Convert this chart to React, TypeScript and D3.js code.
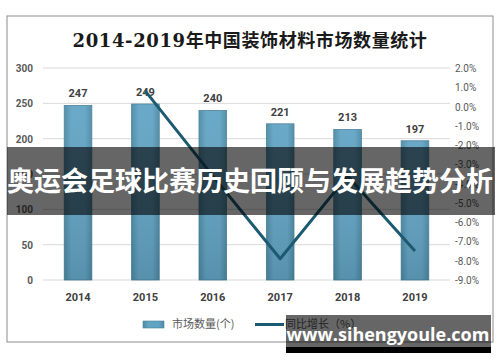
import React from 'react';
import * as d3 from 'd3';

// data
const years = ['2014', '2015', '2016', '2017', '2018', '2019'];
const marketCount = [247, 249, 240, 221, 213, 197];
const growthYears = ['2015', '2016', '2017', '2018', '2019'];
const growthRate = [0.8, -3.6, -7.9, -3.6, -7.5];
const leftTicks = [0, 50, 100, 150, 200, 250, 300];
const rightTicks = [2, 1, 0, -1, -2, -3, -4, -5, -6, -7, -8, -9];

const W = 500;
const H = 362;
const cjk = '"Noto Sans CJK SC", "Noto Sans", sans-serif';

export default function App() {
  const x = d3.scaleBand().domain(years).range([44, 449]).paddingInner(0.59).paddingOuter(0.3);
  const y = d3.scaleLinear().domain([0, 300]).range([280, 68]);
  const yr = d3.scaleLinear().domain([-9, 2]).range([280, 68]);

  const line = d3
    .line<number>()
    .x((d, i) => (x(growthYears[i]) as number) + x.bandwidth() / 2)
    .y((d) => yr(d));

  return (
    <svg
      width={W}
      height={H}
      style={{ position: 'absolute', left: 0, top: 0, background: '#fff' }}
    >
      <defs>
        <linearGradient id="barGrad" x1="0" y1="0" x2="1" y2="0">
          <stop offset="0" stopColor="#4d8aa5" />
          <stop offset="0.25" stopColor="#62a4c4" />
          <stop offset="0.75" stopColor="#62a4c4" />
          <stop offset="1" stopColor="#4d8aa5" />
        </linearGradient>
        <linearGradient id="barShade" x1="0" y1="0" x2="0" y2="1">
          <stop offset="0" stopColor="#ffffff" stopOpacity="0.05" />
          <stop offset="1" stopColor="#000000" stopOpacity="0.12" />
        </linearGradient>
      </defs>

      <rect x={7} y={16} width={486} height={326} fill="#fff" stroke="#8c8c8c" strokeWidth={1} />

      <text
        x={250}
        y={47}
        textAnchor="middle"
        fontFamily={'"DejaVu Serif", "Noto Sans CJK SC", serif'}
        fontSize={18}
        fontWeight="bold"
        letterSpacing={0.6}
        fill="#1a1a1a"
      >
        2014-2019年中国装饰材料市场数量统计
      </text>

      {leftTicks.map((t) => (
        <g key={'l' + t}>
          <line x1={43} x2={450} y1={y(t)} y2={y(t)} stroke="#d9d9d9" strokeWidth={1} />
          <text
            x={33}
            y={y(t) + 4}
            textAnchor="end"
            fontFamily="Roboto, sans-serif"
            fontWeight="bold"
            fontSize={10}
            fill="#595959"
          >
            {t}
          </text>
        </g>
      ))}

      {rightTicks.map((t) => (
        <text
          key={'r' + t}
          x={455}
          y={yr(t) + 4}
          fontFamily="Roboto, sans-serif"
          fontSize={10}
          fill="#595959"
        >
          {t.toFixed(1) + '%'}
        </text>
      ))}

      {years.map((yr0, i) => (
        <g key={yr0}>
          <rect
            x={x(yr0)}
            y={y(marketCount[i])}
            width={x.bandwidth()}
            height={y(0) - y(marketCount[i])}
            fill="url(#barGrad)"
            stroke="#4a8098"
            strokeWidth={0.8}
          />
          <rect
            x={x(yr0)}
            y={y(marketCount[i])}
            width={x.bandwidth()}
            height={y(0) - y(marketCount[i])}
            fill="url(#barShade)"
          />
          <text
            x={(x(yr0) as number) + x.bandwidth() / 2}
            y={y(marketCount[i]) - 8}
            textAnchor="middle"
            fontFamily="Roboto, sans-serif"
            fontWeight="bold"
            fontSize={11}
            fill="#404040"
          >
            {marketCount[i]}
          </text>
          <text
            x={(x(yr0) as number) + x.bandwidth() / 2}
            y={301}
            textAnchor="middle"
            fontFamily="Roboto, sans-serif"
            fontWeight="bold"
            fontSize={11}
            fill="#404040"
          >
            {yr0}
          </text>
        </g>
      ))}

      <path d={line(growthRate) || ''} fill="none" stroke="#1b5a70" strokeWidth={3} strokeLinejoin="round" />

      {/* legend */}
      <rect x={143} y={321} width={21} height={7} fill="url(#barGrad)" stroke="#4a8098" strokeWidth={0.6} />
      <text x={172} y={328} fontFamily={cjk} fontSize={11} fill="#595959">
        市场数量(个)
      </text>
      <line x1={255} x2={284} y1={324.5} y2={324.5} stroke="#1b5a70" strokeWidth={3} />
      <text x={285} y={328} fontFamily={cjk} fontSize={11} fill="#595959">
        同比增长（%）
      </text>

      {/* overlay banner */}
      <rect x={7} y={147} width={488} height={68} fill="#000" fillOpacity={0.6} />
      <text
        x={250}
        y={191}
        textAnchor="middle"
        fontFamily={cjk}
        fontWeight="bold"
        fontSize={27}
        fill="#fff"
      >
        奥运会足球比赛历史回顾与发展趋势分析
      </text>

      {/* watermark */}
      <rect x={286} y={315} width={205} height={32} fill="#000" fillOpacity={0.6} />
      <rect x={286} y={347} width={205} height={6} fill="#000" />
      <text
        x={388}
        y={341}
        textAnchor="middle"
        fontFamily={'"Open Sans", sans-serif'}
        fontWeight="bold"
        fontSize={18}
        fill="#fff"
      >
        www.sihengyoule.com
      </text>
    </svg>
  );
}
